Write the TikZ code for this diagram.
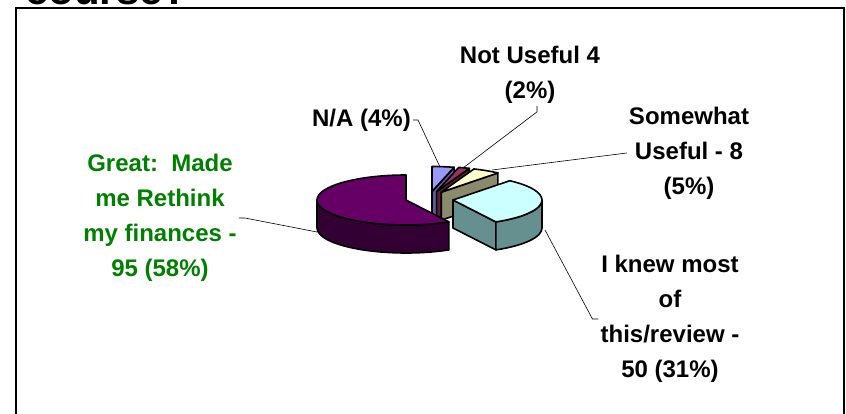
\documentclass[tikz,border=0pt]{standalone}
\usepackage{fontspec}
\setmainfont{Liberation Sans}
\usetikzlibrary{calc}
\definecolor{plum}{HTML}{660066}
\definecolor{plumside}{HTML}{330033}
\definecolor{ice}{HTML}{CCFFFF}
\definecolor{iceside}{HTML}{669090}
\definecolor{cream}{HTML}{FFFFCC}
\definecolor{creamside}{HTML}{8B8B6B}
\definecolor{wine}{HTML}{993366}
\definecolor{wineside}{HTML}{5C1F3D}
\definecolor{lilac}{HTML}{9999FF}
\definecolor{lilacside}{HTML}{5C5C99}
\definecolor{leafgreen}{HTML}{008000}
\def\pietop[#1](#2)(#3:#4){\draw[#1] (#2) -- ($(#2)+(#3:89pt and 25pt)$) arc (#3:#4:89pt and 25pt) -- cycle;}
\def\pieside[#1](#2)(#3:#4){\draw[#1] ($(#2)+(#3:89pt and 25pt)$) arc (#3:#4:89pt and 25pt) -- ++(0,-28) arc (#4:#3:89pt and 25pt) -- cycle;}
\def\piecut[#1](#2)(#3){\draw[#1] (#2) -- ($(#2)+(#3:89pt and 25pt)$) -- ++(0,-28) -- ($(#2)+(0,-28)$) -- cycle;}
\tikzset{
  lbl/.style={font=\bfseries\fontsize{24}{35}\selectfont, align=center, inner sep=2pt},
  wedge/.style={draw=black, line width=1.6pt, line join=round},
  leader/.style={line width=0.6pt}
}
\begin{document}
\begin{tikzpicture}[x=1pt,y=1pt]
			%%%%% FRAME %%%%%
			\useasboundingbox (0,0) rectangle (846,413);
			\clip (0,0) rectangle (846,413);
			\fill[white] (0,0) rectangle (846,413);
			\node[anchor=base west, inner sep=0pt, font=\bfseries\fontsize{42}{46}\selectfont] (ttl) at (25,408) {course?};
			\draw[line width=1.5pt] (16,-5) rectangle (844,405);
			
			%%%%% SLICES, back to front %%%%%
			\coordinate (naC) at (432,221.5);
			\coordinate (nuC) at (436.6,221.4);
			\coordinate (swC) at (441.2,220.8);
			\coordinate (grC) at (406,213);
			\coordinate (ikC) at (453,213);
			
			\piecut[wedge, fill=lilacside](naC)(75.6);
			\pietop[wedge, fill=lilac](naC)(75.6:90);
			
			\piecut[wedge, fill=wineside](nuC)(68.4);
			\pietop[wedge, fill=wine](nuC)(68.4:75.6);
			
			\piecut[wedge, fill=creamside](swC)(50.4);
			\pietop[wedge, fill=cream](swC)(50.4:68.4);
			
			\pieside[wedge, fill=plumside](grC)(180:298.8);
			\pietop[wedge, fill=plum](grC)(90:298.8);
			
			\piecut[wedge, fill=iceside](ikC)(-61.2);
			\pieside[wedge, fill=iceside](ikC)(-61.2:0);
			\pietop[wedge, fill=ice](ikC)(-61.2:50.4);
			
			%%%%% LABELS %%%%%
			\node[lbl, anchor=east] (na) at (413,293) {N/A (4\%)};
			\node[lbl] (nu) at (530,338) {Not Useful 4\\(2\%)};
			\node[lbl] (sw) at (689,260) {Somewhat\\Useful - 8\\(5\%)};
			\node[lbl] (ik) at (670,94) {I knew most\\of\\this/review -\\50 (31\%)};
			\node[lbl, text=leafgreen] (gr) at (160,195) {Great:\ \ Made\\me Rethink\\my finances -\\95 (58\%)};
			
			\coordinate (naTip) at (440,246);
			\coordinate (nuTip) at (463,245);
			\coordinate (swTip) at (492,243);
			\coordinate (ikTip) at (545,183);
			\coordinate (grTip) at (317,181);
			
			\draw[leader] (na.east) -- ++(5,0) -- (naTip);
			\draw[leader] ($(nu.south)+(7,0)$) -- ++(0,-6) -- (nuTip);
			\draw[leader] (sw.west) -- (swTip);
			\draw[leader] (ik.west) -- ++(-6,0) -- (ikTip);
			\draw[leader] (gr.east) -- ++(6,0) -- (grTip);
			
			%%%%% END %%%%%
\end{tikzpicture}
\end{document}
